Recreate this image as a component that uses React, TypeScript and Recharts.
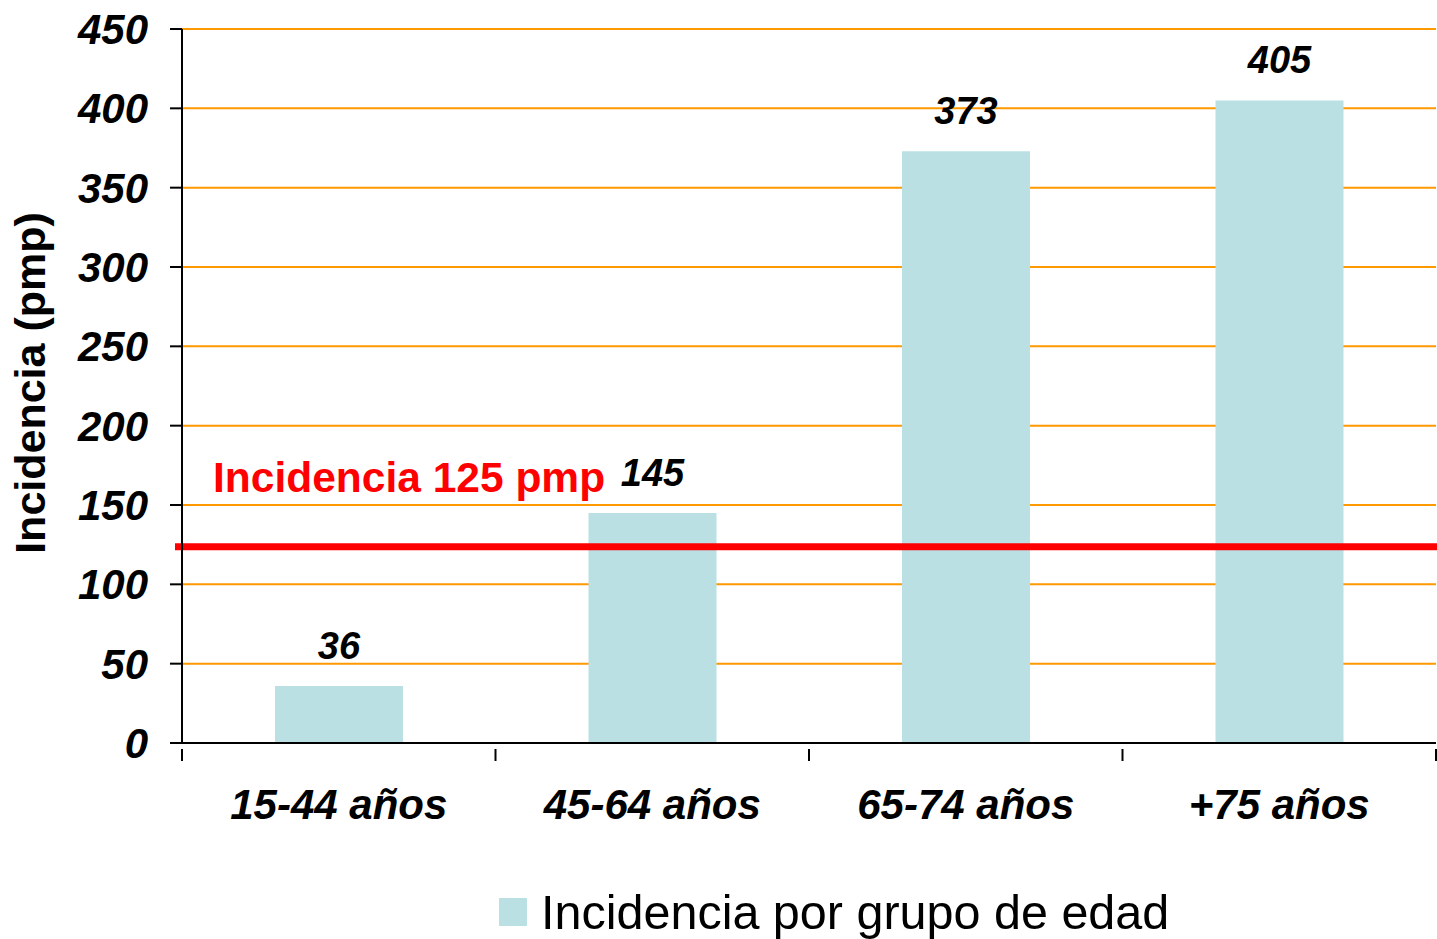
import React from "react";
import {
  BarChart,
  Bar,
  XAxis,
  YAxis,
  CartesianGrid,
  ReferenceLine,
  LabelList,
  Legend,
  Label,
} from "recharts";

const categories = ["15-44 años", "45-64 años", "65-74 años", "+75 años"];
const incidence = [36, 145, 373, 405];
const yTicks = [0, 50, 100, 150, 200, 250, 300, 350, 400, 450];
const threshold = 125;
const thresholdLabel = "Incidencia 125 pmp";
const seriesName = "Incidencia por grupo de edad";
const yTitle = "Incidencia (pmp)";

const WIDTH = 1437;
const HEIGHT = 939;
const Y_AXIS_W = 182;
const RIGHT = 1;
const BAND = (WIDTH - Y_AXIS_W - RIGHT) / categories.length;

const FONT = "'Liberation Sans', Arial, sans-serif";
const BAR_COLOR = "#BAE0E3";

const data = categories.map((name, i) => ({ name, value: incidence[i] }));

function XTick(props: any) {
  const { x, y, payload, index } = props;
  const top = y - 8; // axis line position (tickMargin offset)
  const left = x - BAND / 2;
  return (
    <g>
      <line x1={left} y1={top} x2={left} y2={top + 12} stroke="#000" strokeWidth={2} />
      {index === categories.length - 1 && (
        <line x1={x + BAND / 2} y1={top} x2={x + BAND / 2} y2={top + 12} stroke="#000" strokeWidth={2} />
      )}
      <text
        x={x}
        y={top + 70}
        textAnchor="middle"
        fontFamily={FONT}
        fontSize={42}
        fontWeight="bold"
        fontStyle="italic"
        fill="#000"
      >
        {payload.value}
      </text>
    </g>
  );
}

function BarValue(props: any) {
  const { x, y, width, value } = props;
  return (
    <text
      x={x + width / 2}
      y={y - 27}
      textAnchor="middle"
      fontFamily={FONT}
      fontSize={38}
      fontWeight="bold"
      fontStyle="italic"
      fill="#000"
    >
      {value}
    </text>
  );
}

function ThresholdLine(props: any) {
  const { x1, y1, x2, y2 } = props;
  return <line x1={x1 - 7} y1={y1 + 2} x2={x2 + 1} y2={y2 + 2} stroke="#FF0000" strokeWidth={7} />;
}

function ThresholdLabel(props: any) {
  const { viewBox } = props;
  return (
    <text
      x={viewBox.x + 31}
      y={viewBox.y - 53}
      fontFamily={FONT}
      fontSize={42.5}
      fontWeight="bold"
      fill="#FF0000"
    >
      {thresholdLabel}
    </text>
  );
}

function YTitle(props: any) {
  const { viewBox } = props;
  const cy = viewBox.y + viewBox.height / 2 - 3;
  return (
    <text
      x={45}
      y={cy}
      transform={`rotate(-90, 45, ${cy})`}
      textAnchor="middle"
      fontFamily={FONT}
      fontSize={43}
      fontWeight="bold"
      fill="#000"
    >
      {yTitle}
    </text>
  );
}

function LegendBox() {
  return (
    <div
      style={{
        height: 86,
        paddingTop: 35,
        paddingLeft: 499,
        boxSizing: "border-box",
        display: "flex",
        alignItems: "flex-start",
        fontFamily: FONT,
      }}
    >
      <div style={{ display: "flex", alignItems: "center", height: 48 }}>
        <span style={{ width: 28, height: 28, background: BAR_COLOR, display: "inline-block", marginRight: 14 }} />
        <span style={{ fontSize: 48.5, lineHeight: "48px", color: "#000" }}>{seriesName}</span>
      </div>
    </div>
  );
}

export default function App() {
  return (
    <div style={{ position: "absolute", left: 0, top: 0, background: "#fff" }}>
      <BarChart
        width={WIDTH}
        height={HEIGHT}
        data={data}
        margin={{ top: 29, right: RIGHT, left: 0, bottom: 0 }}
        barSize={128}
      >
        <CartesianGrid vertical={false} stroke="#FF9900" strokeWidth={2} />
        <XAxis
          dataKey="name"
          height={110}
          axisLine={{ stroke: "#000", strokeWidth: 2 }}
          tickLine={false}
          tickMargin={8}
          tick={<XTick />}
          interval={0}
        />
        <YAxis
          width={Y_AXIS_W}
          domain={[0, 450]}
          ticks={yTicks}
          interval={0}
          axisLine={{ stroke: "#000", strokeWidth: 2 }}
          tickLine={{ stroke: "#000", strokeWidth: 2 }}
          tickSize={12}
          tickMargin={22}
          tick={{
            fontFamily: FONT,
            fontSize: 42,
            fontWeight: "bold",
            fontStyle: "italic",
            fill: "#000",
          }}
        >
          <Label content={<YTitle />} />
        </YAxis>
        <Legend verticalAlign="bottom" height={86} content={() => <LegendBox />} />
        <Bar dataKey="value" name={seriesName} fill={BAR_COLOR} isAnimationActive={false}>
          <LabelList dataKey="value" content={<BarValue />} />
        </Bar>
        <ReferenceLine y={threshold} shape={<ThresholdLine />} ifOverflow="visible">
          <Label content={<ThresholdLabel />} />
        </ReferenceLine>
      </BarChart>
    </div>
  );
}
